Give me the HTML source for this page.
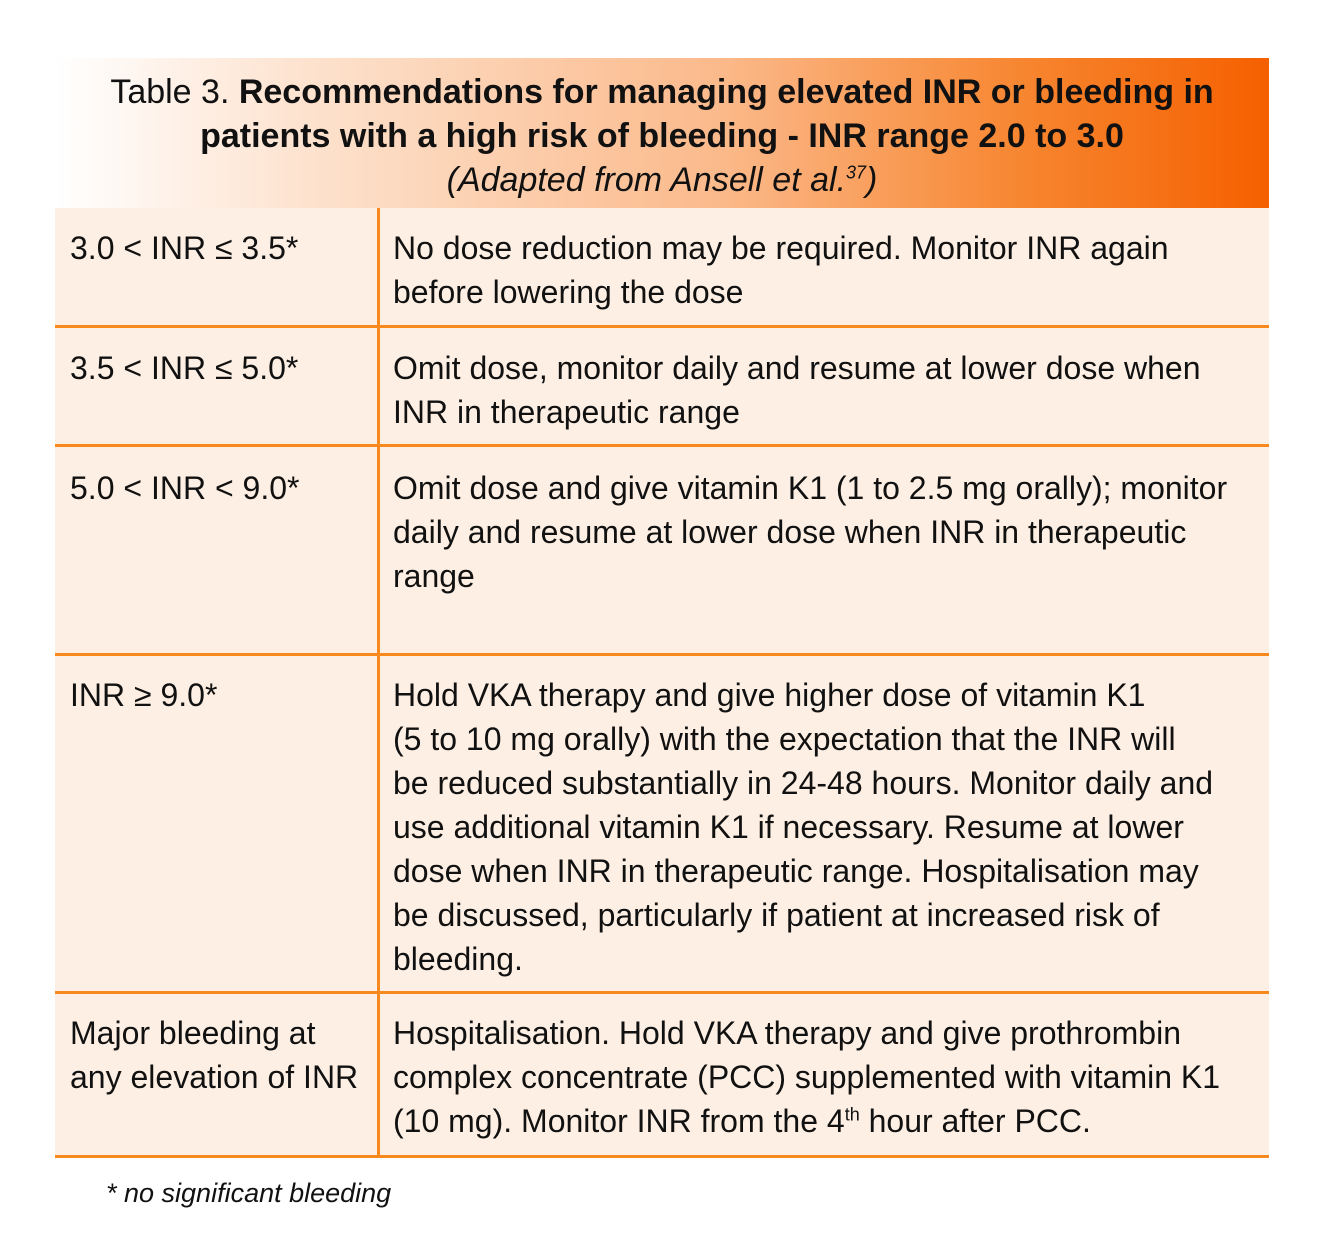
<!DOCTYPE html>
<html><head><meta charset="utf-8"><style>
body{margin:0;width:1325px;height:1254px;background:#fff;position:relative;overflow:hidden;font-family:"Liberation Sans Narrow","Liberation Sans",sans-serif;color:#111;}
.hdr{position:absolute;left:55px;top:58px;width:1214px;height:150px;background:linear-gradient(90deg,#ffffff 0%,#fde3d0 20%,#fbb98a 55%,#f7852f 80%,#f56000 100%);}
.ht{position:absolute;left:0;width:1214px;text-align:center;font-size:34px;line-height:44px;}
.body{position:absolute;left:55px;top:208px;width:1214px;height:950px;background:#fdefe3;}
.hl{position:absolute;left:55px;width:1214px;height:3px;background:#f7891f;}
.vl{position:absolute;left:377px;top:208px;width:3px;height:950px;background:#f7891f;}
.c1,.c2{position:absolute;font-size:32px;line-height:44px;white-space:nowrap;}
.c1{left:70px}.c2{left:393px}
sup{font-size:18px;line-height:0}
</style></head><body>
<div class="hdr">
<div class="ht" style="top:12px">Table 3. <b>Recommendations for managing elevated INR or bleeding in</b></div>
<div class="ht" style="top:56px"><b>patients with a high risk of bleeding - INR range 2.0 to 3.0</b></div>
<div class="ht" style="top:100px;font-style:italic">(Adapted from Ansell et al.<sup>37</sup>)</div>
</div>
<div class="body"></div>
<div class="vl"></div>
<div class="hl" style="top:325px"></div>
<div class="hl" style="top:444px"></div>
<div class="hl" style="top:653px"></div>
<div class="hl" style="top:991px"></div>
<div class="hl" style="top:1155px"></div>

<div class="c1" style="top:226px">3.0 &lt; INR ≤ 3.5*</div>
<div class="c2" style="top:226px">No dose reduction may be required. Monitor INR again<br>before lowering the dose</div>

<div class="c1" style="top:346px">3.5 &lt; INR ≤ 5.0*</div>
<div class="c2" style="top:346px">Omit dose, monitor daily and resume at lower dose when<br>INR in therapeutic range</div>

<div class="c1" style="top:466px">5.0 &lt; INR &lt; 9.0*</div>
<div class="c2" style="top:466px">Omit dose and give vitamin K1 (1 to 2.5 mg orally); monitor<br>daily and resume at lower dose when INR in therapeutic<br>range</div>

<div class="c1" style="top:673px">INR ≥ 9.0*</div>
<div class="c2" style="top:673px">Hold VKA therapy and give higher dose of vitamin K1<br>(5 to 10 mg orally) with the expectation that the INR will<br>be reduced substantially in 24-48 hours. Monitor daily and<br>use additional vitamin K1 if necessary. Resume at lower<br>dose when INR in therapeutic range. Hospitalisation may<br>be discussed, particularly if patient at increased risk of<br>bleeding.</div>

<div class="c1" style="top:1011px">Major bleeding at<br>any elevation of INR</div>
<div class="c2" style="top:1011px">Hospitalisation. Hold VKA therapy and give prothrombin<br>complex concentrate (PCC) supplemented with vitamin K1<br>(10 mg). Monitor INR from the 4<sup>th</sup> hour after PCC.</div>

<div style="position:absolute;left:106px;top:1178px;font-size:27px;font-style:italic">* no significant bleeding</div>
</body></html>
